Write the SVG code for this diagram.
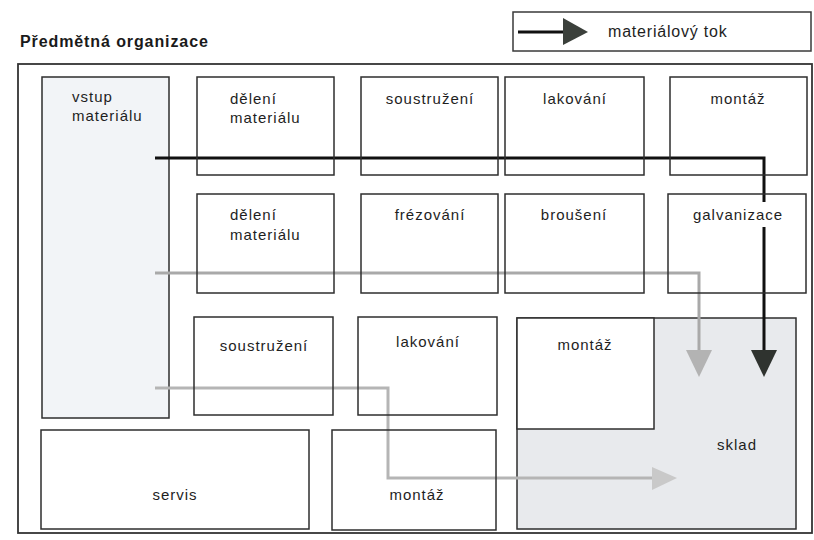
<svg xmlns="http://www.w3.org/2000/svg" width="814" height="540" viewBox="0 0 814 540">
<style>
.box{fill:#fff;stroke:#2e2e2e;stroke-width:1.5}
.lbl{font-family:"Liberation Sans",Arial,sans-serif;font-size:15px;letter-spacing:1px;fill:#1e1e1e}
.mid{text-anchor:middle}
.title{font-family:"Liberation Sans",Arial,sans-serif;font-size:16px;font-weight:bold;letter-spacing:0.9px;fill:#1a1a1a}
.blk{fill:none;stroke:#111;stroke-width:3}
.gry{fill:none;stroke:#a9a9a9;stroke-width:3}
</style>
<rect width="814" height="540" fill="#fff"/>
<text class="title" x="20" y="47">Předmětná organizace</text>
<g id="legend">
<rect x="513" y="12" width="298" height="39" fill="#fff" stroke="#3a3a3a" stroke-width="1.5"/>
<line x1="518" y1="32" x2="566" y2="32" stroke="#111" stroke-width="3"/>
<polygon points="563,18 588,32 563,45" fill="#3b403b"/>
<text class="lbl" x="608" y="37" style="font-size:16px;letter-spacing:0.8px">materiálový tok</text>
</g>
<rect id="frame" x="18" y="64" width="794" height="469" fill="none" stroke="#333" stroke-width="1.8"/>
<g id="vstup">
<rect x="42" y="77" width="127" height="341" fill="#f2f4f7" stroke="#2e2e2e" stroke-width="1.5"/>
<text class="lbl" x="72" y="102">vstup</text>
<text class="lbl" x="72" y="121">materiálu</text>
</g>
<g id="sklad">
<rect x="517" y="318" width="279" height="211" fill="#e8eaed" stroke="#2e2e2e" stroke-width="1.5"/>
<text class="lbl mid" x="737" y="450">sklad</text>
</g>
<g id="connectors">
<polyline class="blk" points="155,158 764,158 764,352"/>
<polygon points="751,350 777,350 764,377" fill="#2f332f"/>
<polyline class="gry" points="155,273 699,273 699,352"/>
<polygon points="686,350 712,350 699,377" fill="#b3b3b3"/>
<polyline class="gry" points="155,388 388,388 388,478 654,478" style="stroke:#b5b5b5"/>
<polygon points="652,467 677,478 652,490" fill="#c9c9c9"/>
</g>
<g id="r1-deleni"><rect class="box" x="197" y="77" width="137" height="98" style="fill:none"/><text class="lbl" x="230" y="104">dělení</text><text class="lbl" x="230" y="123">materiálu</text></g>
<g id="r1-soustruzeni"><rect class="box" x="361" y="77" width="137" height="98" style="fill:none"/><text class="lbl mid" x="430" y="104">soustružení</text></g>
<g id="r1-lakovani"><rect class="box" x="505" y="77" width="139" height="98" style="fill:none"/><text class="lbl mid" x="575" y="104">lakování</text></g>
<g id="r1-montaz"><rect class="box" x="670" y="77" width="137" height="98" style="fill:none"/><text class="lbl mid" x="738" y="104">montáž</text></g>
<g id="r2-deleni"><rect class="box" x="197" y="194" width="137" height="99" style="fill:none"/><text class="lbl" x="230" y="220">dělení</text><text class="lbl" x="230" y="240">materiálu</text></g>
<g id="r2-frezovani"><rect class="box" x="361" y="194" width="137" height="99" style="fill:none"/><text class="lbl mid" x="430" y="220">frézování</text></g>
<g id="r2-brouseni"><rect class="box" x="505" y="194" width="139" height="99" style="fill:none"/><text class="lbl mid" x="574" y="220">broušení</text></g>
<g id="r2-galvanizace"><rect class="box" x="668" y="194" width="138" height="99" style="fill:none"/><rect x="755" y="202" width="18" height="25" fill="#fff"/><text class="lbl mid" x="738" y="220">galvanizace</text></g>
<g id="r3-soustruzeni"><rect class="box" x="194" y="317" width="139" height="98" style="fill:none"/><text class="lbl mid" x="264" y="351">soustružení</text></g>
<g id="r3-lakovani"><rect class="box" x="358" y="317" width="139" height="98" style="fill:none"/><text class="lbl mid" x="428" y="347">lakování</text></g>
<g id="r3-montaz"><rect class="box" x="517" y="318" width="137" height="111"/><text class="lbl mid" x="585" y="350">montáž</text></g>
<g id="servis"><rect class="box" x="41" y="430" width="268" height="99" style="fill:none"/><text class="lbl mid" x="175" y="500">servis</text></g>
<g id="r4-montaz"><rect class="box" x="332" y="430" width="164" height="100" style="fill:none"/><text class="lbl mid" x="417" y="500">montáž</text></g>
</svg>
